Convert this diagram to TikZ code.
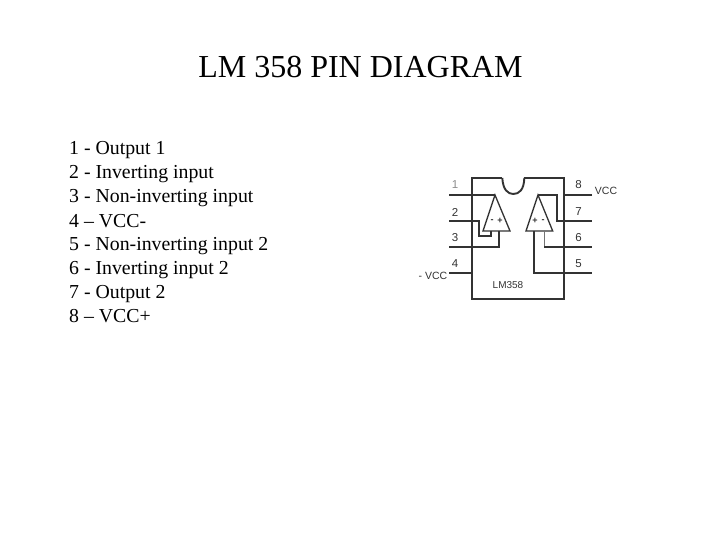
\documentclass[tikz,border=0pt]{standalone}
\usepackage{fontspec}
\setmainfont{Liberation Serif}
\newfontfamily\pinfont{Liberation Sans}
\begin{document}
\begin{tikzpicture}[x=1pt,y=-1pt]

        \useasboundingbox[fill=white] (0,0) rectangle (720,540);

        \tikzset{wire/.style={draw=black!80,line width=1.9pt},
                 pinlabel/.style={font=\pinfont\fontsize{11.5}{13}\selectfont,text=black!80,inner sep=0pt},
                 signlabel/.style={font=\pinfont\bfseries\fontsize{9}{10}\selectfont,text=black!80,inner sep=0pt},
                 listline/.style={font=\fontsize{19.8}{22}\selectfont,anchor=base west,inner sep=0pt}}

        \node[font=\fontsize{32}{34}\selectfont,anchor=base,inner sep=0pt] (title) at (360.5,78) {LM 358 PIN DIAGRAM};

        \begin{scope}[every node/.style={listline}]
          \node (l1) at (69,155) {1 - Output 1};
          \node (l2) at (69,179) {2 - Inverting input};
          \node (l3) at (69,203) {3 - Non-inverting input};
          \node (l4) at (69,227) {4 – VCC-};
          \node (l5) at (69,251) {5 - Non-inverting input 2};
          \node (l6) at (69,274) {6 - Inverting input 2};
          \node (l7) at (69,298) {7 - Output 2};
          \node (l8) at (69,322) {8 – VCC+};
        \end{scope}

        % package
        \coordinate (tl) at (471.7,178);
        \coordinate (tr) at (564,178);
        \coordinate (bl) at (471.7,299);
        \coordinate (br) at (564,299);
        \coordinate (nl) at (502.3,178);
        \coordinate (nr) at (524.3,178);
        \draw[wire] (nl) -- (tl) -- (bl) -- (br) -- (tr) -- (nr);
        \draw[wire] (nl) .. controls (503,190) and (508,194) .. (513.3,194) .. controls (519,194) and (524,190) .. (nr);

        % amplifiers
        \coordinate (aa) at (495,195);
        \coordinate (ab) at (483,231);
        \coordinate (ac) at (510,231);
        \coordinate (ba) at (538,195);
        \coordinate (bb) at (526,231);
        \coordinate (bc) at (552.7,231);
        \draw[wire,line width=1.3pt] (aa) -- (ab) -- (ac) -- cycle;
        \draw[wire,line width=1.3pt] (ba) -- (bb) -- (bc) -- cycle;

        % pin ends
        \coordinate (p1) at (449,195);
        \coordinate (p2) at (449,220.7);
        \coordinate (p3) at (449,247.3);
        \coordinate (p4) at (449,273);
        \coordinate (p5) at (592,273);
        \coordinate (p6) at (592,247.3);
        \coordinate (p7) at (592,220.7);
        \coordinate (p8) at (592,195);
        \coordinate (k4) at (471.7,273);
        \coordinate (k8) at (564,195);

        % amplifier inputs
        \coordinate (a2) at (491,231);
        \coordinate (a3) at (499.3,231);
        \coordinate (b5) at (533.7,231);
        \coordinate (b6) at (544.3,231);

        \draw[wire] (p1) -- (aa);
        \draw[wire] (p2) -| (479.3,236) -| (a2);
        \draw[wire] (p3) -| (a3);
        \draw[wire] (p4) -- (k4);
        \draw[wire] (p8) -- (k8);
        \draw[wire] (ba) -| (556.7,220.7) -- (p7);
        \draw[wire,draw=black!55,line width=.8pt] (b6) |- (544.3,247.3);
        \draw[wire] (544.3,247.3) -- (p6);
        \draw[wire] (b5) |- (p5);

        \begin{scope}[every node/.style={pinlabel}]
          \node[text=black!45] (n1) at (455,185) {1};
          \node (n2) at (455,212) {2};
          \node (n3) at (455,237.5) {3};
          \node (n4) at (455,264) {4};
          \node (n8) at (578.5,185) {8};
          \node (n7) at (578.5,212) {7};
          \node (n6) at (578.5,238) {6};
          \node (n5) at (578.5,264) {5};
          \node[font=\pinfont\fontsize{10.5}{12}\selectfont] (vcc) at (606,191) {VCC};
          \node[font=\pinfont\fontsize{10.5}{12}\selectfont] (mvcc) at (433,276) {- VCC};
          \node[font=\pinfont\fontsize{10}{12}\selectfont] (lm) at (508,285) {LM358};
        \end{scope}

        \begin{scope}[every node/.style={signlabel}]
          \node (am) at (492,221) {-};
          \node (ap) at (500,221) {+};
          \node (bp) at (535,221) {+};
          \node (bm) at (543,221) {-};
        \end{scope}

\end{tikzpicture}
\end{document}
